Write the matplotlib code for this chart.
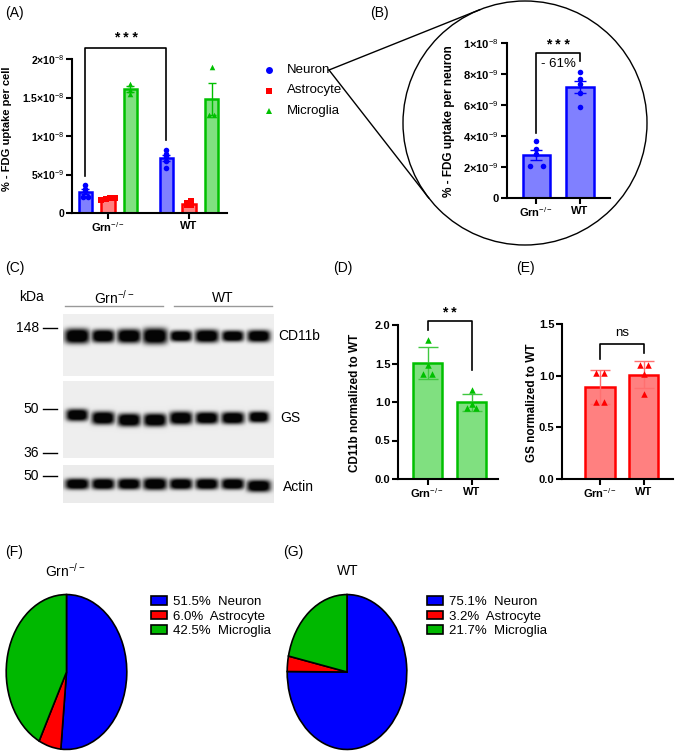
import numpy as np
import matplotlib.pyplot as plt
from matplotlib.patches import Circle

plt.rcParams['font.family'] = ['Liberation Sans', 'DejaVu Sans']
plt.rcParams['mathtext.fontset'] = 'custom'
plt.rcParams['mathtext.rm'] = 'Liberation Sans'
plt.rcParams['mathtext.it'] = 'Liberation Sans:italic'
plt.rcParams['mathtext.bf'] = 'Liberation Sans:bold'

W, H = 685, 751

genotypes = ['Grn$^{-/-}$', 'WT']
cell_types = ['Neuron', 'Astrocyte', 'Microglia']

# (A)/(B) FDG uptake per cell, one value per animal
neuron_grn = [3.66e-9, 3.17e-9, 2.84e-9, 2.09e-9, 2.09e-9]
neuron_wt = [8.14e-9, 7.69e-9, 7.37e-9, 6.77e-9, 5.90e-9]
astro_grn = [1.95e-9, 1.95e-9, 1.70e-9, 1.85e-9]
astro_wt = [1.55e-9, 1.00e-9, 1.00e-9, 1.30e-9]
micro_grn = [1.68e-8, 1.55e-8, 1.60e-8]
micro_wt = [1.90e-8, 1.27e-8, 1.27e-8]

a_ticks = [0, 5e-9, 1e-8, 1.5e-8, 2e-8]
a_ticklabels = ['0', '5×10$^{-9}$', '1×10$^{-8}$', '1.5×10$^{-8}$', '2×10$^{-8}$']
b_ticks = [0, 2e-9, 4e-9, 6e-9, 8e-9, 1e-8]
b_ticklabels = ['0', '2×10$^{-9}$', '4×10$^{-9}$', '6×10$^{-9}$', '8×10$^{-9}$', '1×10$^{-8}$']

# (D)/(E) western blot quantification
cd11b_grn = [1.80, 1.48, 1.37, 1.37]
cd11b_wt = [1.16, 0.98, 0.92, 0.92]
gs_grn = [1.03, 1.03, 0.75, 0.75]
gs_wt = [1.10, 1.10, 1.02, 0.82]

# (C) blot band sizes per lane (4 Grn-/-, 4 WT)
cd11b_h = [15, 13, 14, 16, 11, 13, 11, 12]
cd11b_w = [25, 23, 24, 25, 22, 24, 22, 23]
gs_h = [12, 13, 13, 13, 13, 12, 12, 11]
gs_w = [22, 23, 23, 23, 23, 23, 23, 20]
gs_dy = [-3, 0, 2, 2, 0, 0, 0, -1]
actin_h = [11, 11, 11, 12, 11, 11, 11, 12]
actin_w = [24, 23, 23, 24, 23, 23, 23, 24]
actin_dy = [0, 0, 0, 0, 0, 0, 0, 2]

# (F)/(G) share of FDG uptake
share_grn = [51.5, 6.0, 42.5]
share_wt = [75.1, 3.2, 21.7]

BLUE, RED, GREEN = '#0000ff', '#ff0000', '#00c000'
FILLS = {BLUE: '#8080ff', RED: '#ff8080', GREEN: '#80e080'}

fig = plt.figure(figsize=(W / 100, H / 100), dpi=100)


def px_axes(x0, y0, x1, y1):
    ax = fig.add_axes([x0 / W, 1 - y1 / H, (x1 - x0) / W, (y1 - y0) / H])
    ax.set_facecolor('none')
    return ax


def spread(vals, step, tol):
    vals = np.asarray(vals)
    offs = np.zeros(len(vals))
    clusters = []
    for i in np.argsort(vals):
        if clusters and vals[i] - vals[clusters[-1][-1]] < tol:
            clusters[-1].append(i)
        else:
            clusters.append([i])
    for c in clusters:
        offs[c] = (np.arange(len(c)) - (len(c) - 1) / 2) * step
    return offs


def draw_bar(ax, x, vals, color, marker, width, ms, step, tol, sem=True, errc=None, cap=4):
    vals = np.asarray(vals)
    m = vals.mean()
    e = vals.std(ddof=1)
    if sem:
        e /= np.sqrt(len(vals))
    ax.bar(x, m, width, color=FILLS[color], edgecolor=color, linewidth=1.8, zorder=2)
    ax.errorbar(x, m, yerr=e, color=errc or color, capsize=cap, lw=1, capthick=1, zorder=3)
    ax.scatter(x + spread(vals, step, tol), vals, marker=marker, s=ms, color=color,
               linewidths=0, zorder=4)


def style(ax, ticks, labels, xt, xl, fs=7.5):
    for s in ['top', 'right']:
        ax.spines[s].set_visible(False)
    for s in ['left', 'bottom']:
        ax.spines[s].set_linewidth(1.5)
    ax.tick_params(width=1.5, length=4, pad=1.5)
    ax.set_yticks(ticks)
    ax.set_yticklabels(labels, fontsize=fs, fontweight='bold')
    ax.set_xticks(xt)
    ax.set_xticklabels(xl, fontsize=8, fontweight='bold')


def bracket(ax, x0, x1, y0l, ytop, y0r, txt, ty, fs=10):
    ax.plot([x0, x0, x1, x1], [y0l, ytop, ytop, y0r], color='black', lw=1.2,
            clip_on=False, zorder=5)
    ax.text((x0 + x1) / 2, ty, txt, ha='center', va='center', fontsize=fs,
            fontweight='bold', clip_on=False)


# ---------------- (A)
axA = px_axes(72, 59, 227, 213)
off = [-0.278, 0, 0.278]
a_sets = [[neuron_grn, astro_grn, micro_grn], [neuron_wt, astro_wt, micro_wt]]
styles = [(BLUE, 'o'), (RED, 's'), (GREEN, '^')]
for g, sets in enumerate(a_sets):
    for k, vals in enumerate(sets):
        col, mk = styles[k]
        draw_bar(axA, g + off[k], vals, col, mk, 0.17, 16, 0.06, 0.3e-9, cap=3)
axA.set_xlim(-0.444, 1.469)
axA.set_ylim(0, 2e-8)
style(axA, a_ticks, a_ticklabels, [0, 1], genotypes)
bracket(axA, -0.278, 1 - 0.278, 0.484e-8, 2.147e-8, 0.948e-8, '* * *', 2.27e-8)

# ---------------- (B)
axB = px_axes(506.7, 43.3, 610, 198)
draw_bar(axB, 0, neuron_grn, BLUE, 'o', 0.64, 16, 0.32, 0.3e-9, cap=4)
draw_bar(axB, 1, neuron_wt, BLUE, 'o', 0.64, 16, 0.32, 0.3e-9, cap=4)
axB.set_xlim(-0.685, 1.69)
axB.set_ylim(0, 1e-8)
style(axB, b_ticks, b_ticklabels, [0, 1], genotypes, fs=8)
bracket(axB, 0, 1, 0.42e-8, 0.937e-8, 0.886e-8, '* * *', 0.99e-8)
axB.text(0.5, 0.866e-8, '- 61%', ha='center', va='center', fontsize=9.5)

# ---------------- (D)
axD = px_axes(398, 325, 498, 479)
draw_bar(axD, 0, cd11b_grn, GREEN, '^', 0.66, 22, 0.2, 0.05, sem=False, errc='#40c840', cap=7)
draw_bar(axD, 1, cd11b_wt, GREEN, '^', 0.66, 22, 0.2, 0.05, sem=False, errc='#40c840', cap=7)
axD.set_xlim(-0.67, 1.6)
axD.set_ylim(0, 2)
style(axD, [0, 0.5, 1, 1.5, 2], ['0.0', '0.5', '1.0', '1.5', '2.0'], [0, 1], genotypes, fs=8)
bracket(axD, 0, 1, 1.935, 2.05, 1.415, '* *', 2.15)

# ---------------- (E)
axE = px_axes(562, 324, 673, 479)
draw_bar(axE, 0, gs_grn, RED, '^', 0.66, 22, 0.2, 0.05, sem=False, errc='#ff7070', cap=7)
draw_bar(axE, 1, gs_wt, RED, '^', 0.66, 22, 0.2, 0.05, sem=False, errc='#ff7070', cap=7)
axE.set_xlim(-0.864, 1.66)
axE.set_ylim(0, 1.5)
style(axE, [0, 0.5, 1, 1.5], ['0.0', '0.5', '1.0', '1.5'], [0, 1], genotypes, fs=8)
axE.plot([0, 0, 1, 1], [1.16, 1.307, 1.307, 1.22], color='black', lw=1.2, clip_on=False)
axE.text(0.5, 1.41, 'ns', ha='center', va='center', fontsize=9.5, clip_on=False)


# ---------------- (C) western blot
def blot(y0, y1, yc, heights, widths, dy, bg=0.92):
    ax = px_axes(63, y0, 274, y1)
    xs = np.linspace(63, 274, 422)
    ys = np.linspace(y0, y1, int((y1 - y0) * 2))
    X, Y = np.meshgrid(xs, ys)
    dark = np.zeros_like(X)
    for i in range(8):
        cx = 77 + 26 * i
        b = np.exp(-(np.abs(X - cx) / (widths[i] / 2)) ** 4
                   - (np.abs(Y - yc - dy[i]) / (heights[i] / 2)) ** 3)
        dark = np.maximum(dark, b)
    img = bg * (1 - 0.98 * np.clip(dark * 1.3, 0, 1))
    ax.imshow(img, cmap='gray', vmin=0, vmax=1, extent=(63, 274, y1, y0), aspect='auto',
              interpolation='bilinear')
    ax.axis('off')


blot(314, 376, 336, cd11b_h, cd11b_w, [0] * 8, bg=0.94)
blot(381, 458, 418, gs_h, gs_w, gs_dy, bg=0.93)
blot(465, 503, 484, actin_h, actin_w, actin_dy, bg=0.92)


# ---------------- (F)/(G) pies
def pie(x0, y0, x1, y1, vals, title, tx, lx):
    ax = px_axes(x0, y0, x1, y1)
    wedges, _ = ax.pie(vals, colors=[BLUE, RED, '#00b800'], startangle=90, counterclock=False,
                       wedgeprops=dict(edgecolor='black', linewidth=1.2))
    ax.set_aspect('auto')
    ax.set_xlim(-1.02, 1.02)
    ax.set_ylim(-1.02, 1.02)
    labels = [f'{v:.1f}%  {n}' for v, n in zip(vals, cell_types)]
    fig.legend(wedges, labels, loc='upper left', bbox_to_anchor=(lx / W, 1 - 596 / H),
               frameon=False, fontsize=9, handlelength=1.2, handleheight=0.6,
               handletextpad=0.5, labelspacing=0.2, borderpad=0, borderaxespad=0,
               prop={'family': ['Liberation Sans Narrow', 'Liberation Sans'], 'size': 9.5})
    fig.text(tx / W, 1 - 571 / H, title, ha='center', va='center', fontsize=10,
             family=['Liberation Sans Narrow', 'Liberation Sans'])


pie(5, 593, 128, 751, share_grn, genotypes[0], 65, 151)
pie(286, 593, 408, 751, share_wt, genotypes[1], 348, 427)

# ---------------- overlay: labels, legend, zoom circle
ov = fig.add_axes([0, 0, 1, 1])
ov.set_xlim(0, W)
ov.set_ylim(H, 0)
ov.axis('off')

for lab, x, y in [('(A)', 5, 13), ('(B)', 370, 13), ('(C)', 5, 268), ('(D)', 333, 268),
                  ('(E)', 516, 268), ('(F)', 5, 552), ('(G)', 283, 552)]:
    ov.text(x, y, lab, fontsize=10, va='center', ha='left')

for i, (name, (col, mk)) in enumerate(zip(cell_types, styles)):
    y = 70 + 20.5 * i
    ov.plot(269, y, marker=mk, color=col, ms=5, mew=0)
    ov.text(287, y, name, fontsize=9.5, va='center')

cx, cy, r = 525, 123, 122
ov.add_patch(Circle((cx, cy), r, fill=False, lw=1, color='black'))
px, py = 329, 70
d = np.hypot(cx - px, cy - py)
base = np.arctan2(cy - py, cx - px)
half = np.arcsin(r / d)
L = np.sqrt(d ** 2 - r ** 2)
for sgn in (-1, 1):
    a = base + sgn * half
    ov.plot([px, px + L * np.cos(a)], [py, py + L * np.sin(a)], color='black', lw=1)

ov.text(7, 129, '% - FDG uptake per cell', rotation=90, ha='center', va='center',
        fontsize=8, fontweight='bold')
ov.text(449, 121, '% - FDG uptake per neuron', rotation=90, ha='center', va='center',
        fontsize=8.5, fontweight='bold')
ov.text(355, 403, 'CD11b normalized to WT', rotation=90, ha='center', va='center',
        fontsize=8.5, fontweight='bold')
ov.text(532, 403, 'GS normalized to WT', rotation=90, ha='center', va='center',
        fontsize=8.5, fontweight='bold')

# blot annotations
ov.text(32, 297, 'kDa', fontsize=10, ha='center', va='center')
ov.text(114, 298, genotypes[0], fontsize=10, ha='center', va='center')
ov.text(223, 298, genotypes[1], fontsize=10, ha='center', va='center')
ov.plot([65, 163], [306, 306], color='#999999', lw=1)
ov.plot([174, 272], [306, 306], color='#999999', lw=1)
for txt, y in [('148', 328), ('50', 409), ('36', 453), ('50', 476)]:
    ov.text(39, y, txt, fontsize=10, ha='right', va='center')
    ov.plot([43, 57], [y, y], color='black', lw=1)
ov.text(278, 336, 'CD11b', fontsize=10, va='center')
ov.text(280, 418, 'GS', fontsize=10, va='center')
ov.text(283, 487, 'Actin', fontsize=10, va='center')

fig.savefig('out.png', dpi=100)
